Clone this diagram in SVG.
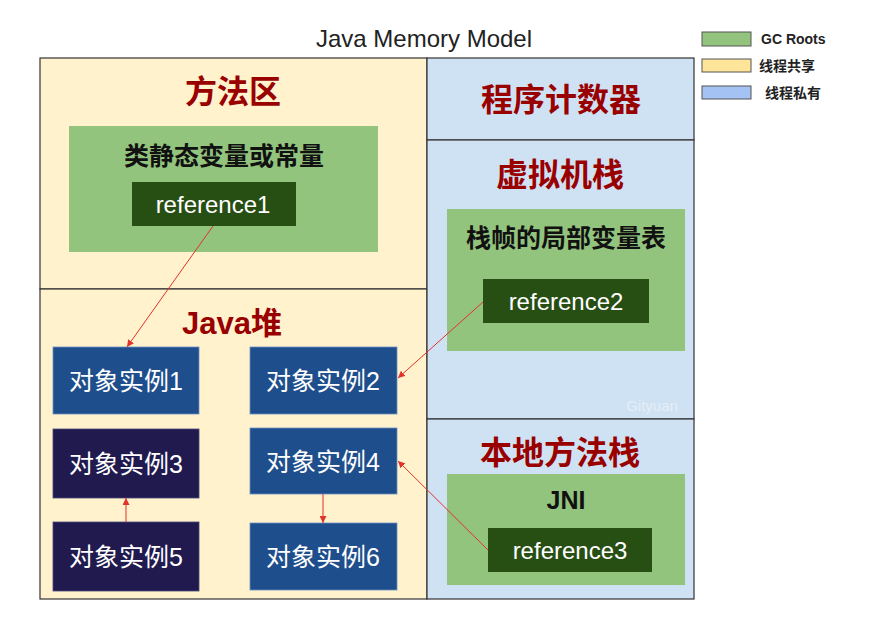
<svg xmlns="http://www.w3.org/2000/svg" width="877" height="617" viewBox="0 0 877 617">
<style>
.shared{fill:#fff2cc;stroke:#333;stroke-width:1.2}
.private{fill:#cfe2f3;stroke:#333;stroke-width:1.2}
.gc{fill:#93c47d}
.ref{fill:#274e13}
.obj{fill:#1f4e8c;stroke:#6d8fc4;stroke-width:0.8}
.objd{fill:#201a4f;stroke:#4a4a7a;stroke-width:0.8}
.title{font-family:"Liberation Sans","Noto Sans CJK SC",sans-serif;font-weight:bold;fill:#990000;text-anchor:middle;dominant-baseline:central;font-size:32px}
.sub{font-family:"Liberation Sans","Noto Sans CJK SC",sans-serif;font-weight:bold;fill:#111;text-anchor:middle;dominant-baseline:central;font-size:25px}
.wt{font-family:"Liberation Sans","Noto Sans CJK SC",sans-serif;fill:#fff;text-anchor:middle;dominant-baseline:central;font-size:25px}
.rt{font-family:"Liberation Sans","Noto Sans CJK SC",sans-serif;fill:#fff;text-anchor:middle;dominant-baseline:central;font-size:24px}
.leg{font-family:"Liberation Sans","Noto Sans CJK SC",sans-serif;font-weight:bold;fill:#222;font-size:14px;dominant-baseline:central}
.conn{stroke:#e0332a;stroke-width:1;fill:none}
</style>
<defs>
<marker id="arr" viewBox="0 0 10 10" refX="10" refY="5" markerWidth="7" markerHeight="7" orient="auto" markerUnits="userSpaceOnUse">
<path d="M0,0 L10,5 L0,10 z" fill="#e0332a"/>
</marker>
</defs>
<rect width="877" height="617" fill="#fff"/>
<text x="424" y="38" font-family="Liberation Sans,sans-serif" font-size="24" fill="#222" text-anchor="middle" dominant-baseline="central">Java Memory Model</text>

<g id="legend">
<rect x="702" y="32" width="49" height="14" fill="#93c47d" stroke="#555" stroke-width="1"/>
<text class="leg" x="761" y="39">GC Roots</text>
<rect x="702" y="59" width="49" height="13" fill="#ffe599" stroke="#555" stroke-width="1"/>
<text class="leg" x="759" y="66">线程共享</text>
<rect x="702" y="86" width="49" height="13" fill="#a4c2f4" stroke="#555" stroke-width="1"/>
<text class="leg" x="765" y="93">线程私有</text>
</g>

<g id="method-area">
<rect class="shared" x="40" y="58" width="387" height="231"/>
<text class="title" x="233" y="92">方法区</text>
</g>
<g id="java-heap">
<rect class="shared" x="40" y="289" width="387" height="310"/>
<text class="title" x="232" y="323" style="font-size:31px">Java堆</text>
</g>
<g id="pc-counter">
<rect class="private" x="427" y="58" width="267" height="82"/>
<text class="title" x="561" y="100">程序计数器</text>
</g>
<g id="vm-stack">
<rect class="private" x="427" y="140" width="267" height="279"/>
<text class="title" x="560" y="175">虚拟机栈</text>
<text x="652" y="405" font-family="Liberation Sans,sans-serif" font-size="15" fill="#e6edf5" text-anchor="middle" dominant-baseline="central">Gityuan</text>
</g>
<g id="native-stack">
<rect class="private" x="427" y="419" width="267" height="180"/>
<text class="title" x="560" y="453">本地方法栈</text>
</g>

<g id="static-vars">
<rect class="gc" x="69" y="126" width="309" height="126"/>
<text class="sub" x="224" y="156">类静态变量或常量</text>
</g>
<g id="reference1">
<rect class="ref" x="132" y="182" width="164" height="44"/>
<text class="rt" x="213" y="204">reference1</text>
</g>
<g id="local-vars">
<rect class="gc" x="447" y="209" width="238" height="142"/>
<text class="sub" x="566" y="238">栈帧的局部变量表</text>
</g>
<g id="reference2">
<rect class="ref" x="483" y="279" width="166" height="44"/>
<text class="rt" x="566" y="301">reference2</text>
</g>
<g id="jni">
<rect class="gc" x="447" y="474" width="238" height="111"/>
<text class="sub" x="566" y="500">JNI</text>
</g>
<g id="reference3">
<rect class="ref" x="488" y="528" width="164" height="44"/>
<text class="rt" x="570" y="550">reference3</text>
</g>

<g id="obj1"><rect class="obj" x="53" y="347" width="146" height="67"/><text class="wt" x="126" y="381">对象实例1</text></g>
<g id="obj2"><rect class="obj" x="250" y="347" width="147" height="67"/><text class="wt" x="323" y="381">对象实例2</text></g>
<g id="obj3"><rect class="objd" x="53" y="429" width="146" height="69"/><text class="wt" x="126" y="464">对象实例3</text></g>
<g id="obj4"><rect class="obj" x="250" y="428" width="147" height="66"/><text class="wt" x="323" y="462">对象实例4</text></g>
<g id="obj5"><rect class="objd" x="53" y="522" width="146" height="69"/><text class="wt" x="126" y="557">对象实例5</text></g>
<g id="obj6"><rect class="obj" x="250" y="523" width="147" height="67"/><text class="wt" x="323" y="557">对象实例6</text></g>

<g id="connectors">
<line class="conn" x1="213" y1="226" x2="127" y2="347" marker-end="url(#arr)"/>
<line class="conn" x1="483" y1="302" x2="398" y2="378" marker-end="url(#arr)"/>
<line class="conn" x1="488" y1="550" x2="398" y2="461" marker-end="url(#arr)"/>
<line class="conn" x1="126" y1="522" x2="126" y2="498" marker-end="url(#arr)"/>
<line class="conn" x1="323" y1="494" x2="323" y2="523" marker-end="url(#arr)"/>
</g>
</svg>
